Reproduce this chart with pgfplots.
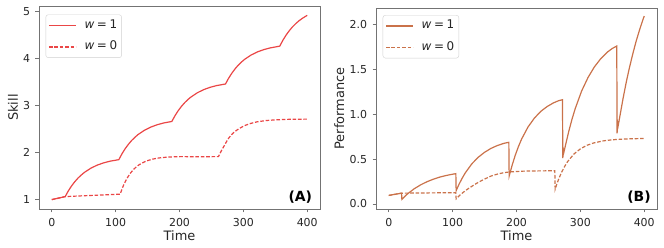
\documentclass[border=0pt]{standalone}
\usepackage{fontspec}
\setmainfont{DejaVu Sans}
\usepackage{pgfplots}
\pgfplotsset{compat=1.18}
\definecolor{cskill}{RGB}{234,70,70}
\definecolor{cperf}{RGB}{202,114,74}
\definecolor{txt}{RGB}{38,38,38}
\newcommand{\wl}[1]{\textit{w}\hspace{0.22em}=\hspace{0.22em}#1}
\pgfplotsset{
  legend image code/.code={\draw[#1] (0bp,0bp) -- (27bp,0bp);},
  myaxis/.style={
    scale only axis, width=281bp,
    xmin=-20, xmax=420, xtick={0,100,200,300,400},
    axis line style={black!55, line width=0.6bp},
    tick style={black!55, line width=0.6bp},
    tick align=outside, major tick length=3.5bp,
    xtick pos=bottom, ytick pos=left,
    /pgf/number format/assume math mode=true,
    ticklabel style={font=\fontsize{11}{13}\selectfont, text=txt},
    xticklabel style={yshift=-2bp},
    yticklabel style={xshift=-2bp},
    label style={font=\fontsize{13}{15}\selectfont, text=txt},
    xlabel style={at={(axis description cs:0.5,-0.133)}, anchor=center},
    legend cell align=left,
    legend style={draw=black!18, rounded corners=2.5bp, fill=white,
      font=\fontsize{12}{14}\selectfont, text=txt,
      anchor=north west, inner xsep=2.5bp, inner ysep=2.7bp, row sep=5.5bp, column sep=6bp,
      nodes={inner xsep=2bp, inner ysep=2bp, text height=9bp, text depth=3bp}},
  },
}
\begin{document}
\begin{tikzpicture}
\useasboundingbox (0,0) rectangle (664bp,248bp);
% ---------------- (A) Skill
\begin{axis}[myaxis, at={(39bp,39bp)}, anchor=south west, height=203bp,
  ymin=0.8, ymax=5.12, ytick={1,2,3,4,5},
  xlabel={Time}, ylabel={Skill},
  ylabel style={at={(axis description cs:-0.0925,0.5)}, anchor=center},
  legend style={at={(0.0235,0.958)}}]
\addplot[cskill, line width=1.2bp] coordinates {
(0,1.000) (10,1.030) (21,1.064)
(26,1.187) (31,1.291) (36,1.380) (41,1.457) (46,1.521) (51,1.578) (61,1.667) (71,1.733) (81,1.781) (91,1.817) (105,1.850)
(110,1.977) (115,2.085) (120,2.177) (125,2.257) (130,2.324) (135,2.383) (145,2.475) (155,2.543) (165,2.593) (175,2.630) (188,2.663)
(193,2.787) (198,2.893) (203,2.983) (208,3.061) (213,3.127) (218,3.184) (228,3.274) (238,3.341) (248,3.390) (258,3.426) (272,3.460)
(277,3.585) (282,3.691) (287,3.782) (292,3.861) (297,3.927) (302,3.985) (312,4.076) (322,4.143) (332,4.192) (342,4.228) (357,4.266)
(362,4.394) (367,4.503) (372,4.596) (377,4.677) (382,4.745) (387,4.804) (392,4.854) (397,4.897) (400,4.921)
};
\addlegendentry{\wl{1}}
\addplot[cskill, line width=1.2bp, dash pattern=on 3.6bp off 1.8bp] coordinates {
(0,1.000) (10,1.030) (21,1.064) (60,1.088) (107,1.115)
(112,1.294) (117,1.433) (122,1.543) (127,1.627) (132,1.692) (137,1.744) (147,1.816) (157,1.859) (167,1.885) (182,1.906) (202,1.915) (230,1.912) (261,1.915)
(266,2.050) (271,2.170) (276,2.290) (281,2.375) (286,2.440) (291,2.490) (301,2.570) (311,2.620) (321,2.654) (336,2.683) (351,2.698) (371,2.708) (400,2.713)
};
\addlegendentry{\wl{0}}
\node[font=\bfseries\fontsize{14}{16}\selectfont, text=black] at (axis description cs:0.93,0.06) {(A)};
\end{axis}
% ---------------- (B) Performance
\begin{axis}[myaxis, at={(376bp,39bp)}, anchor=south west, height=201bp,
  ymin=-0.056, ymax=2.18, ytick={0,0.5,1,1.5,2},
  yticklabel style={/pgf/number format/.cd, fixed, fixed zerofill, precision=1},
  xlabel={Time}, ylabel={Performance},
  ylabel style={at={(axis description cs:-0.1306,0.5)}, anchor=center},
  legend style={at={(0.024,0.965)}}]
\addplot[cperf, line width=1.2bp] coordinates {
(0,0.095) (10,0.108) (20,0.120) (20.5,0.052)
(25,0.084) (30,0.116) (40,0.170) (50,0.213) (60,0.248) (70,0.276) (80,0.299) (90,0.317) (100,0.331) (105,0.337)
(105.5,0.148) (110,0.219) (115,0.288) (120,0.348) (130,0.446) (140,0.519) (150,0.575) (160,0.618) (170,0.650) (180,0.674) (188,0.686)
(188.5,0.310) (193,0.427) (198,0.541) (203,0.638) (208,0.722) (218,0.856) (228,0.955) (238,1.030) (248,1.084) (258,1.125) (266,1.149) (272,1.160)
(272.5,0.510) (273.5,0.600) (274.2,0.575) (277,0.662) (282,0.812) (287,0.945) (292,1.062) (302,1.257) (312,1.407) (322,1.525) (332,1.617) (342,1.688) (350,1.730) (357,1.757)
(357.5,0.785) (358.5,0.900) (359.2,0.870) (362,0.981) (367,1.179) (372,1.360) (377,1.521) (382,1.667) (387,1.802) (392,1.921) (397,2.030) (400,2.091)
};
\addlegendentry{\wl{1}}
\addplot[cperf, line width=1.2bp, dash pattern=on 3.6bp off 1.8bp] coordinates {
(0,0.095) (10,0.108) (20,0.120) (60,0.123) (105,0.125)
(105.5,0.058) (110,0.090) (115,0.120) (120,0.148) (125,0.173) (132,0.205) (140,0.240) (150,0.277) (160,0.310) (170,0.332) (180,0.348) (190,0.357) (210,0.365) (235,0.368) (260,0.369)
(260.5,0.164) (263,0.218) (266,0.276) (270,0.343) (275,0.413) (280,0.471) (290,0.556) (300,0.613) (310,0.652) (320,0.677) (335,0.701) (350,0.714) (370,0.723) (400,0.729)
};
\addlegendentry{\wl{0}}
\node[font=\bfseries\fontsize{14}{16}\selectfont, text=black] at (axis description cs:0.936,0.06) {(B)};
\end{axis}
\end{tikzpicture}
\end{document}
